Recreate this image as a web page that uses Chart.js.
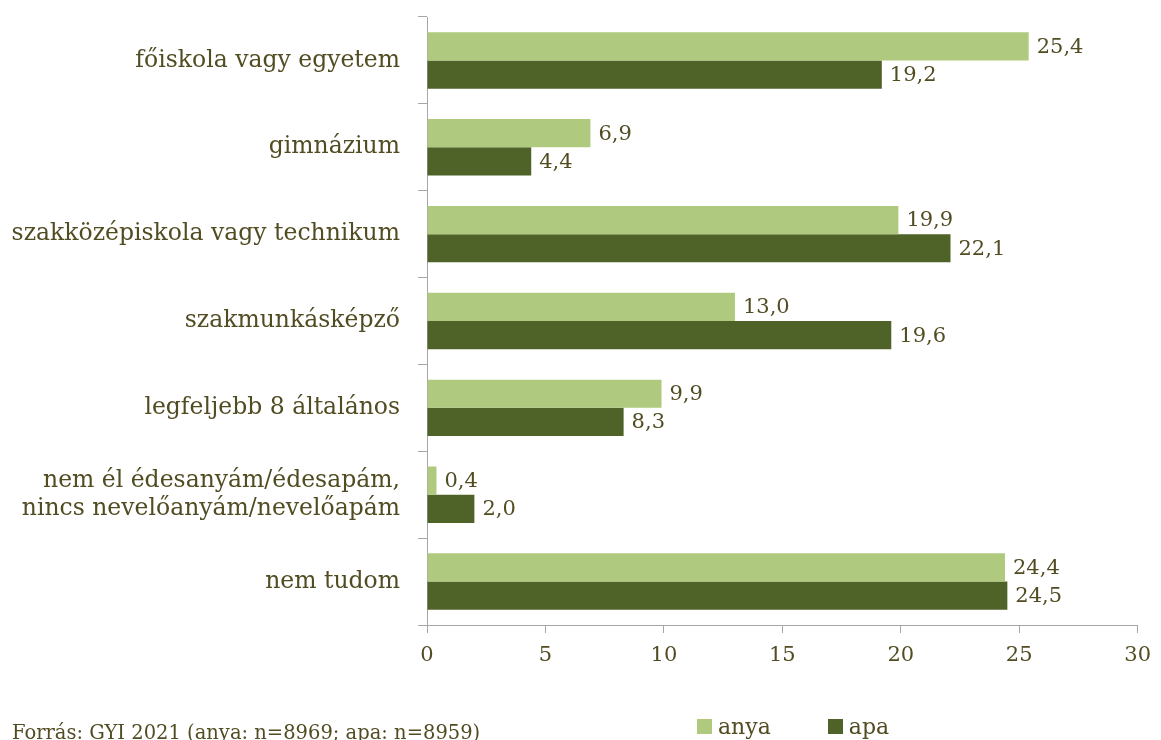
<!DOCTYPE html>
<html>
<head>
<meta charset="utf-8">
<script src="https://cdn.jsdelivr.net/npm/chart.js@4"></script>
<style>
  html, body { margin: 0; padding: 0; background: #fff; }
  #wrap { position: relative; width: 1161px; height: 740px; overflow: hidden; }
  #source { position: absolute; left: 12px; top: 721px; font: 19.5px 'DejaVu Serif', serif; color: #514c22; white-space: nowrap; }
  #legend { position: absolute; left: 697px; top: 714px; font: 22px 'DejaVu Serif', serif; color: #514c22; white-space: nowrap; }
  #legend span.item { display: inline-block; margin-right: 57px; }
  #legend i { display: inline-block; width: 15px; height: 15px; margin-right: 6px; vertical-align: 0px; }
</style>
</head>
<body>
<div id="wrap">
  <canvas id="chart" width="1161" height="740"></canvas>
  <div id="legend"></div>
  <div id="source">Forrás: GYI 2021 (anya: n=8969; apa: n=8959)</div>
</div>
<script>
// --- data ---
const categories = [
  'főiskola vagy egyetem',
  'gimnázium',
  'szakközépiskola vagy technikum',
  'szakmunkásképző',
  'legfeljebb 8 általános',
  ['nem él édesanyám/édesapám,', 'nincs nevelőanyám/nevelőapám'],
  'nem tudom'
];
const anyaValues = [25.4, 6.9, 19.9, 13.0, 9.9, 0.4, 24.4];
const apaValues = [19.2, 4.4, 22.1, 19.6, 8.3, 2.0, 24.5];
const xTicks = [0, 5, 10, 15, 20, 25, 30];

const seriesNames = ['anya', 'apa'];
const colors = { anya: '#afc97e', apa: '#4f6228' };
const textColor = '#514c22';
const axisGrey = '#a6a6a6';
const FONT = "'DejaVu Serif', serif";

// --- value labels at the end of each bar, comma decimals ---
const valueLabels = {
  id: 'valueLabels',
  afterDatasetsDraw(chart) {
    const ctx = chart.ctx;
    ctx.save();
    ctx.font = '21px ' + FONT;
    ctx.fillStyle = textColor;
    ctx.textBaseline = 'middle';
    ctx.textAlign = 'left';
    chart.data.datasets.forEach((ds, i) => {
      chart.getDatasetMeta(i).data.forEach((bar, j) => {
        const txt = ds.data[j].toFixed(1).replace('.', ',');
        ctx.fillText(txt, bar.x + 8, bar.y + 1);
      });
    });
    ctx.restore();
  }
};

const chart = new Chart(document.getElementById('chart'), {
  type: 'bar',
  data: {
    labels: categories,
    datasets: [
      { label: seriesNames[0], data: anyaValues, backgroundColor: colors.anya },
      { label: seriesNames[1], data: apaValues, backgroundColor: colors.apa }
    ]
  },
  options: {
    indexAxis: 'y',
    responsive: false,
    animation: false,
    categoryPercentage: 0.65,
    barPercentage: 1.0,
    layout: { padding: { top: 17, right: 13, bottom: 50, left: 0 } },
    plugins: {
      legend: { display: false },
      tooltip: { enabled: false }
    },
    scales: {
      x: {
        min: 0,
        max: 30,
        afterBuildTicks: s => { s.ticks = xTicks.map(v => ({ value: v })); },
        afterFit: s => { s.height = 65; },
        grid: { drawOnChartArea: false, drawTicks: true, tickLength: 8, color: axisGrey },
        border: { color: axisGrey, width: 1 },
        ticks: { color: textColor, font: { family: FONT, size: 21 }, padding: 10 }
      },
      y: {
        // fixed label column; drop the half-label padding chart.js adds top/bottom
        afterFit: s => { s.width = 427; s.paddingTop = 0; s.paddingBottom = 0; },
        grid: { drawOnChartArea: false, drawTicks: true, tickLength: 9, offset: true, color: axisGrey },
        border: { color: axisGrey, width: 1 },
        ticks: { color: textColor, font: { family: FONT, size: 23.5 }, padding: 18, autoSkip: false }
      }
    }
  },
  plugins: [valueLabels]
});

// --- legend (html) ---
document.getElementById('legend').innerHTML = seriesNames
  .map(n => `<span class="item"><i style="background:${colors[n]}"></i>${n}</span>`)
  .join('');
</script>
</body>
</html>
